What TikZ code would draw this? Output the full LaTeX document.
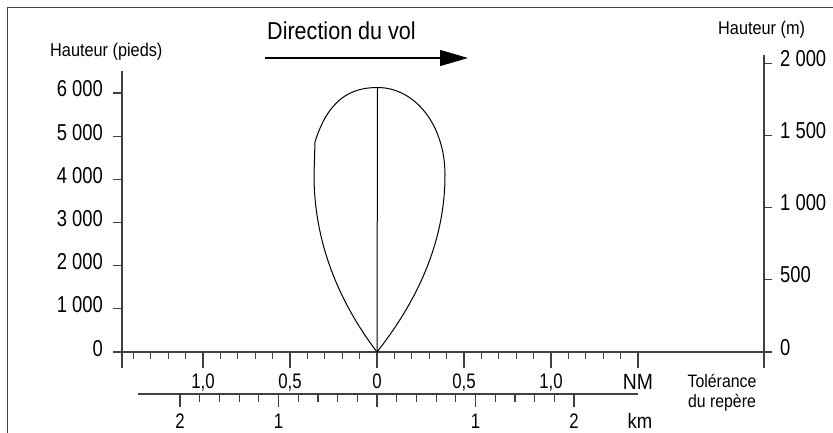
\documentclass[tikz,border=0pt]{standalone}
\usepackage{fontspec}
\setmainfont{Liberation Sans}
\newfontfamily\condfont{Liberation Sans}[FakeStretch=0.88]
\newfontfamily\numfont{Liberation Sans}[FakeStretch=0.8]
\usetikzlibrary{arrows.meta,positioning}

\begin{document}
\begin{tikzpicture}[x=1pt, y=-1pt, every node/.style={inner sep=0pt}]
  \tikzset{
    framed/.style={draw=black!75, line width=1.5pt},
    axisline/.style={draw=black!75, line width=1.4pt},
    tickline/.style={draw=black!75, line width=1.2pt},
    lobe/.style={draw=black, line width=1pt},
    feetlbl/.style={font=\numfont\fontsize{23}{26}\selectfont, anchor=base east},
    meterlbl/.style={font=\numfont\fontsize{23}{26}\selectfont, anchor=base west},
    scalelbl/.style={font=\numfont\fontsize{21}{24}\selectfont, anchor=base},
    caption/.style={font=\condfont\fontsize{18.5}{22}\selectfont, anchor=base west}
  }
  \useasboundingbox (0,0) rectangle (833,433);

  % frame
  \draw[framed] (7.5,433) -- (7.5,7.5) -- (833,7.5);

  % flight direction
  \node[font=\condfont\fontsize{24.5}{28}\selectfont, anchor=base west] (dirlbl) at (267,40) {Direction du vol};
  \coordinate (dirstart) at (265,58);
  \coordinate (dirend) at (468,58);
  \draw[-{Triangle[length=28pt,width=16pt]}, line width=1.3pt] (dirstart) -- (dirend);

  % axis titles
  \node[caption] (feettitle) at (50,57) {Hauteur (pieds)};
  \node[caption] (metertitle) at (718,35) {Hauteur (m)};

  % feet axis
  \coordinate (fttop) at (122,71);
  \coordinate (ftbot) at (122,368);
  \draw[axisline] (fttop) -- (ftbot);
  \foreach \i/\t in {0/0, 1/1\ 000, 2/2\ 000, 3/3\ 000, 4/4\ 000, 5/5\ 000, 6/6\ 000} {
    \draw[tickline] (113,352-43.17*\i) -- (122,352-43.17*\i);
    \node[feetlbl] (ft\i) at (103,356-43.17*\i) {\t};
  }

  % metre axis
  \coordinate (mtop) at (764,55);
  \coordinate (mbot) at (764,368);
  \draw[axisline] (mtop) -- (mbot);
  \foreach \i/\t in {0/0, 1/500, 2/1\ 000, 3/1\ 500, 4/2\ 000} {
    \draw[tickline] (764,352-72.2*\i) -- (772,352-72.2*\i);
    \node[meterlbl] (m\i) at (780,355-72.2*\i) {\t};
  }

  % NM scale
  \coordinate (nmleft) at (113,352);
  \coordinate (nmright) at (772,352);
  \draw[axisline] (nmleft) -- (nmright);
  \foreach \k in {-14,...,15} {
    \pgfmathsetmacro\tl{ifthenelse(mod(\k,5)==0,16,7)}
    \draw[tickline] (377+17.4*\k,352) -- ++(0,\tl);
  }
  \foreach \k/\t in {-10/{1,0}, -5/{0,5}, 0/0, 5/{0,5}, 10/{1,0}} {
    \node[scalelbl] (nm\k) at (377+17.4*\k,388) {\t};
  }
  \node[font=\condfont\fontsize{22}{26}\selectfont, anchor=base] (nmunit) at (638,389) {NM};

  % km scale
  \coordinate (kmleft) at (138,394);
  \coordinate (kmright) at (638,394);
  \draw[axisline] (kmleft) -- (kmright);
  \foreach \k in {-10,...,10} {
    \pgfmathsetmacro\tl{ifthenelse(mod(\k,5)==0,13,8)}
    \draw[tickline] (377+19.7*\k,394) -- ++(0,\tl);
  }
  \foreach \k/\t in {-10/2, -5/1, 5/1, 10/2} {
    \node[scalelbl] (km\k) at (377+19.7*\k,428) {\t};
  }
  \node[font=\condfont\fontsize{21}{24}\selectfont, anchor=base] (kmunit) at (640,428) {km};

  % tolerance caption
  \node[font=\condfont\fontsize{18}{22}\selectfont, anchor=base] (tolA) at (722,387) {Tolérance};
  \node[font=\condfont\fontsize{18}{22}\selectfont, anchor=base] (tolB) at (722,407) {du repère};

  % lobe
  \coordinate (ltop) at (377.5,87.5);
  \coordinate (lbot) at (377,352);
  \draw[lobe] (lbot) .. controls (345,310) and (314,250) .. (314,175)
    -- (315,142) .. controls (328,100) and (350,87.5) .. (ltop)
    .. controls (415,87.5) and (445,125) .. (445,175)
    .. controls (445,250) and (410,310) .. (lbot);
  \draw[lobe] (ltop) -- (lbot);
\end{tikzpicture}
\end{document}
